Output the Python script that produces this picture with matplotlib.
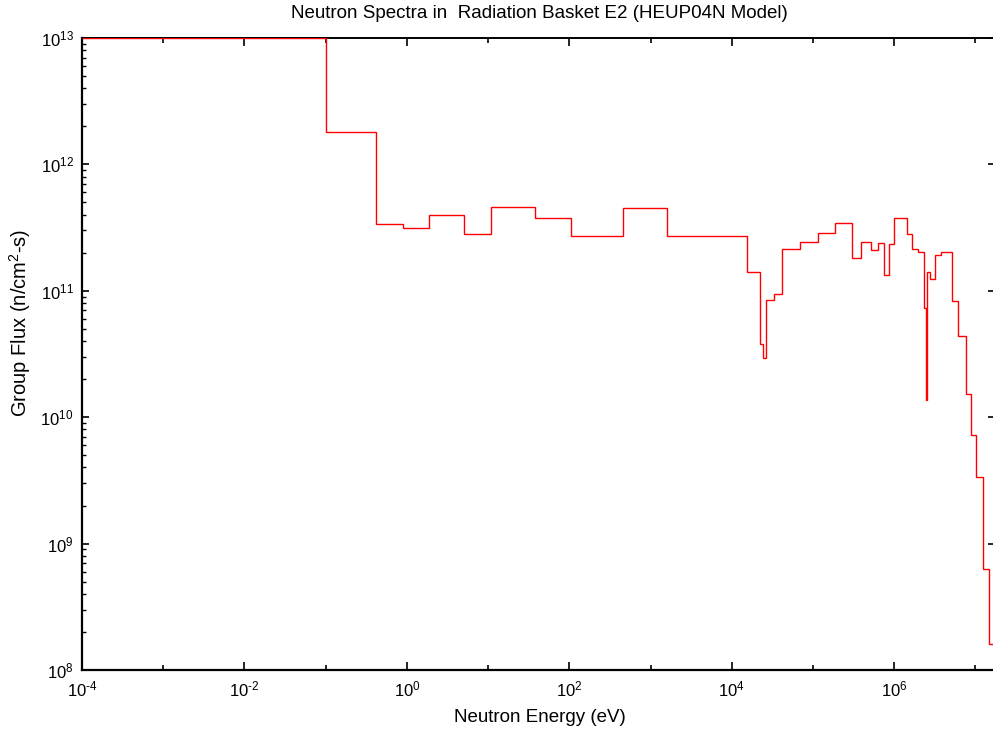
import matplotlib
matplotlib.use("Agg")
import matplotlib.pyplot as plt
from matplotlib.ticker import FixedLocator, FuncFormatter, NullFormatter
import numpy as np

plt.rcParams['font.family'] = ['Liberation Sans', 'DejaVu Sans']
plt.rcParams['mathtext.fontset'] = 'custom'
plt.rcParams['mathtext.rm'] = 'Liberation Sans'
plt.rcParams['mathtext.it'] = 'Liberation Sans:italic'
plt.rcParams['mathtext.bf'] = 'Liberation Sans:bold'

# Group boundaries (eV) and group flux (n/cm^2-s)
energy_edges = [1e-4, 0.1, 0.414, 0.89, 1.88, 5.1, 10.8, 38.3, 105, 456, 1590,
                15200, 22400, 24200, 26400, 32700, 41800, 69600, 115000, 189000,
                301000, 389000, 516000, 640000, 746000, 860000, 1.007e6, 1.42e6,
                1.66e6, 1.97e6, 2.32e6, 2.43e6, 2.48e6, 2.52e6, 2.77e6, 3.16e6,
                3.82e6, 5.17e6, 6.13e6, 7.6e6, 8.79e6, 1.03e7, 1.24e7, 1.49e7, 2e7]
group_flux = [1e13, 1.8e12, 3.38e11, 3.12e11, 3.96e11, 2.81e11, 4.6e11, 3.77e11,
              2.73e11, 4.5e11, 2.73e11, 1.42e11, 3.8e10, 2.94e10, 8.49e10, 9.42e10,
              2.14e11, 2.44e11, 2.88e11, 3.46e11, 1.83e11, 2.44e11, 2.09e11, 2.40e11,
              1.33e11, 2.33e11, 3.75e11, 2.83e11, 2.15e11, 2.04e11, 7.3e10, 6.6e10,
              1.36e10, 1.42e11, 1.23e11, 1.92e11, 2.04e11, 8.33e10, 4.38e10, 1.52e10,
              7.19e9, 3.36e9, 6.27e8, 1.62e8]
x_major = [1e-4, 1e-2, 1e0, 1e2, 1e4, 1e6]
x_minor = [1e-3, 1e-1, 1e1, 1e3, 1e5, 1e7]

title = "Neutron Spectra in  Radiation Basket E2 (HEUP04N Model)"
xlabel = "Neutron Energy (eV)"
ylabel = "Group Flux (n/cm$^2$-s)"


def pow10(v, pos):
    e = int(round(np.log10(v)))
    return r"$\mathdefault{10^{\text{%d}}}$" % e


W, H = 993, 731
fig = plt.figure(figsize=(W / 100, H / 100), dpi=100)
left, right, top, bottom = 82, 995, 38, 670
ax = fig.add_axes([left / W, (H - bottom) / H, (right - left) / W, (bottom - top) / H])

ax.stairs(group_flux, energy_edges, baseline=None, color='#ff0000', lw=1.0, zorder=3)

ax.set_xscale('log')
ax.set_yscale('log')
decade_px = 81.22
ax.set_xlim(1e-4, 10 ** (-4 + (right - left) / decade_px))
ax.set_ylim(1e8, 1e13)

ax.xaxis.set_major_locator(FixedLocator(x_major))
ax.xaxis.set_minor_locator(FixedLocator(x_minor))
ax.xaxis.set_major_formatter(FuncFormatter(pow10))
ax.xaxis.set_minor_formatter(NullFormatter())
ax.yaxis.set_major_formatter(FuncFormatter(pow10))
ax.yaxis.set_minor_formatter(NullFormatter())

for s in ax.spines.values():
    s.set_linewidth(1.4)
ax.spines['left'].set_linewidth(1.6)
ax.spines['bottom'].set_linewidth(1.6)

ax.tick_params(axis='x', which='major', direction='in', length=6, width=1.2,
               top=True, labelsize=12, pad=7)
ax.tick_params(axis='x', which='minor', direction='in', length=3.5, width=1.2, top=True)
ax.tick_params(axis='y', which='major', direction='in', length=5, width=1.2,
               right=True, labelsize=12, pad=6)
ax.tick_params(axis='y', which='minor', direction='in', length=3, width=1.0,
               right=False)

fig.text(539 / W, 1 - 13 / H, title, ha='center', va='center', fontsize=13.5)
fig.text(540 / W, 1 - 717 / H, xlabel, ha='center', va='center', fontsize=13.5)
fig.text(20 / W, 1 - 323 / H, ylabel, ha='center', va='center', rotation=90, fontsize=14.5)

fig.savefig("out.png", dpi=100)
